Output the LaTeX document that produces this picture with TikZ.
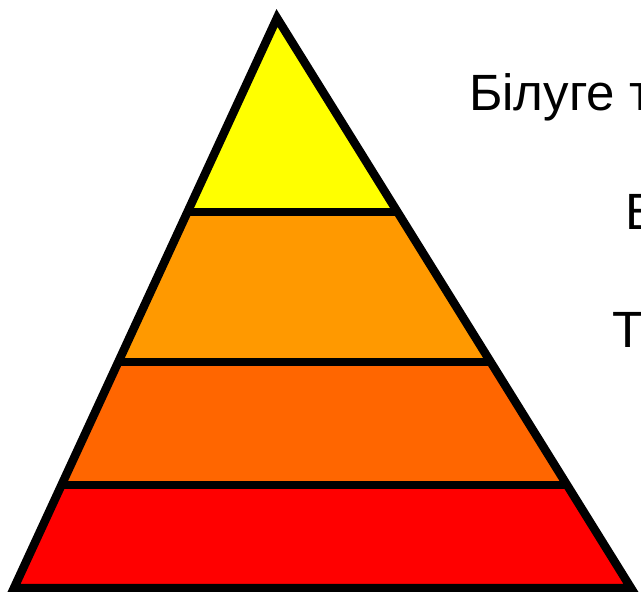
\documentclass[tikz,border=0pt]{standalone}
\usepackage{fontspec}
\setmainfont{Liberation Sans}
\usetikzlibrary{calc}
\definecolor{lvA}{RGB}{255,255,0}
\definecolor{lvB}{RGB}{255,153,0}
\definecolor{lvC}{RGB}{255,102,0}
\definecolor{lvD}{RGB}{255,0,0}
\tikzset{
  edge/.style={line width=8.5pt, line join=miter, black},
  sep/.style={line width=8.5pt, black},
  lbl/.style={anchor=base west, inner sep=0pt, font=\fontsize{51}{60}\selectfont, text=black}
}
\begin{document}
\begin{tikzpicture}[x=1pt,y=-1pt]
\useasboundingbox (0,0) rectangle (641,592);
\coordinate (apex) at (277,18);
\coordinate (bl) at (14,588);
\coordinate (br) at (631,588);
\coordinate (l1) at ($(apex)!0.3404!(bl)$);
\coordinate (r1) at ($(apex)!0.3404!(br)$);
\coordinate (l2) at ($(apex)!0.6035!(bl)$);
\coordinate (r2) at ($(apex)!0.6035!(br)$);
\coordinate (l3) at ($(apex)!0.8193!(bl)$);
\coordinate (r3) at ($(apex)!0.8193!(br)$);
\fill[lvA] (apex) -- (l1) -- (r1) -- cycle;
\fill[lvB] (l1) -- (l2) -- (r2) -- (r1) -- cycle;
\fill[lvC] (l2) -- (l3) -- (r3) -- (r2) -- cycle;
\fill[lvD] (l3) -- (bl) -- (br) -- (r3) -- cycle;
\draw[sep] (l1) -- (r1);
\draw[sep] (l2) -- (r2);
\draw[sep] (l3) -- (r3);
\draw[edge] (apex) -- (bl) -- (br) -- cycle;
\node[lbl] (t1) at (469,110) {Білуге т};
\node[lbl] (t2) at (625,229) {В};
\node[lbl] (t3) at (612,347) {Т};
\end{tikzpicture}
\end{document}
